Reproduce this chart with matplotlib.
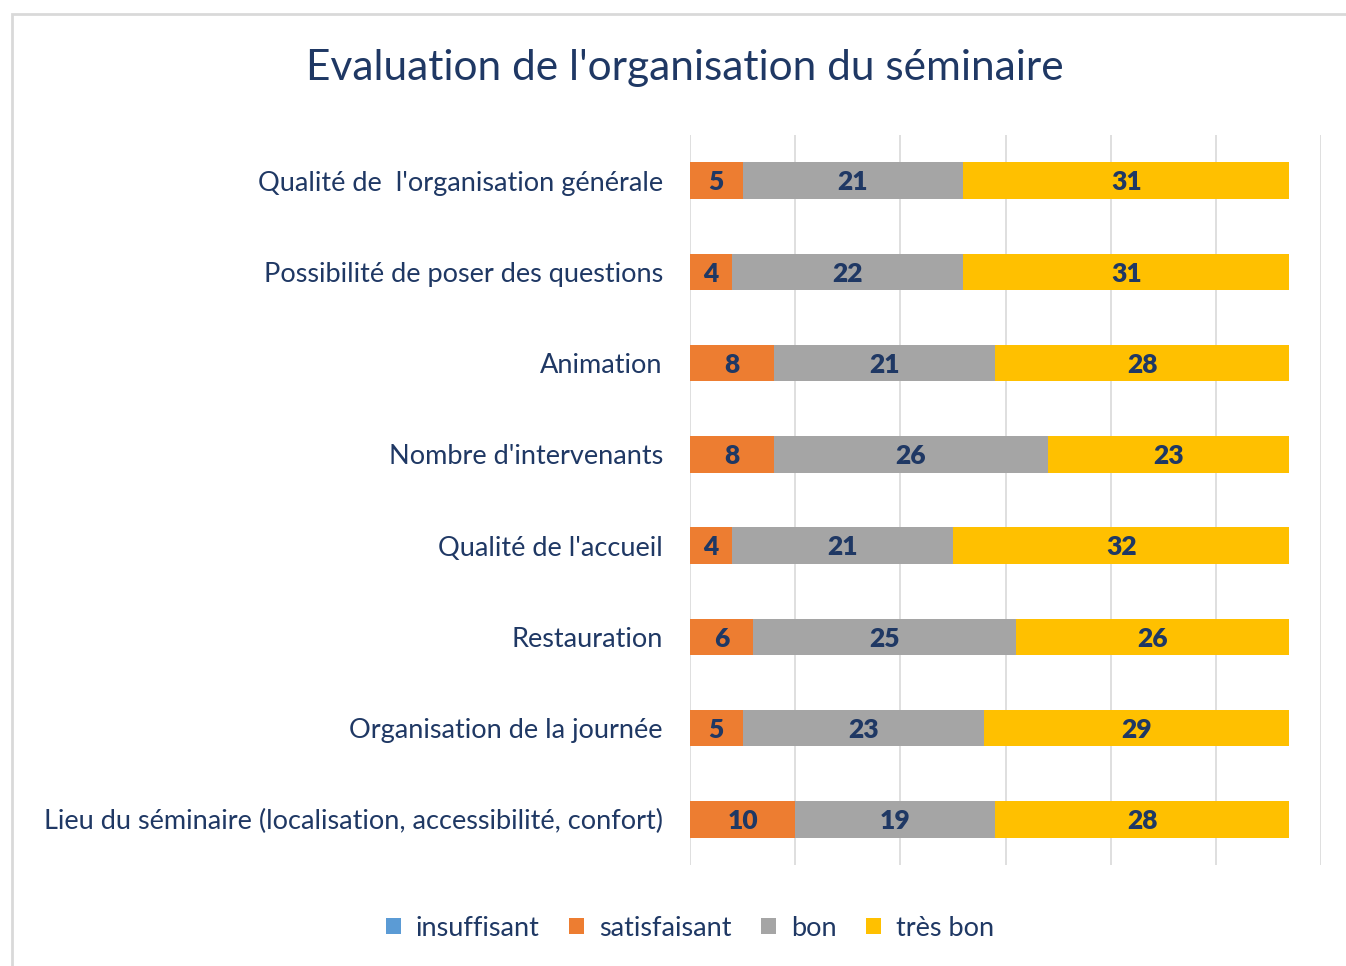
import matplotlib.pyplot as plt
from matplotlib.patches import Rectangle
import numpy as np

plt.rcParams['font.family'] = ['Lato', 'DejaVu Sans']

categories = ["Qualité de  l'organisation générale",
              "Possibilité de poser des questions",
              "Animation",
              "Nombre d'intervenants",
              "Qualité de l'accueil",
              "Restauration",
              "Organisation de la journée",
              "Lieu du séminaire (localisation, accessibilité, confort)"]
insuffisant = [0, 0, 0, 0, 0, 0, 0, 0]
satisfaisant = [5, 4, 8, 8, 4, 6, 5, 10]
bon = [21, 22, 21, 26, 21, 25, 23, 19]
tres_bon = [31, 31, 28, 23, 32, 26, 29, 28]

series = [('insuffisant', insuffisant, '#5B9BD5'),
          ('satisfaisant', satisfaisant, '#ED7D31'),
          ('bon', bon, '#A5A5A5'),
          ('très bon', tres_bon, '#FFC000')]

navy = '#1F3864'

fig = plt.figure(figsize=(13.46, 9.66), dpi=100)
fig.patches.append(Rectangle((12/1346, -0.1), 1.2, 1 - 14/966 + 0.1,
                             transform=fig.transFigure, facecolor='white',
                             edgecolor='#D9D9D9', linewidth=2, zorder=-1))

ax = fig.add_axes([690/1346, 1 - 865/966, 631/1346, 730/966])
ax.set_facecolor('none')

y = np.arange(len(categories))
left = np.zeros(len(categories))
for name, vals, col in series:
    vals = np.array(vals)
    ax.barh(y, vals, left=left, height=0.4, color=col, label=name, zorder=2)
    for yi, l, v in zip(y, left, vals):
        if v > 0:
            ax.text(l + v / 2, yi + 0.02, str(v), ha='center', va='center',
                    fontsize=19, fontweight='heavy', color=navy, zorder=3)
    left = left + vals

ax.set_xlim(0, 60)
ax.set_ylim(len(categories) - 0.5, -0.5)
ax.set_xticks(np.arange(0, 61, 10))
ax.grid(axis='x', color='#D9D9D9', linewidth=1.2, zorder=0)
ax.tick_params(axis='both', length=0)
ax.set_xticklabels([])
ax.set_yticks(y)
ax.set_yticklabels(categories, fontsize=19.5, color=navy)
ax.tick_params(axis='y', pad=19.5)
for s in ax.spines.values():
    s.set_visible(False)

fig.text(685/1346, 1 - 68/966, "Evaluation de l'organisation du séminaire",
         ha='center', va='center', fontsize=30.5, color=navy)

fig.legend(loc='center', bbox_to_anchor=(690/1346, 1 - 928/966), ncol=4,
           frameon=False, fontsize=19.5, labelcolor=navy,
           handlelength=0.55, handleheight=0.55, handletextpad=0.55,
           columnspacing=1.1)

fig.savefig('out.png', dpi=100)
